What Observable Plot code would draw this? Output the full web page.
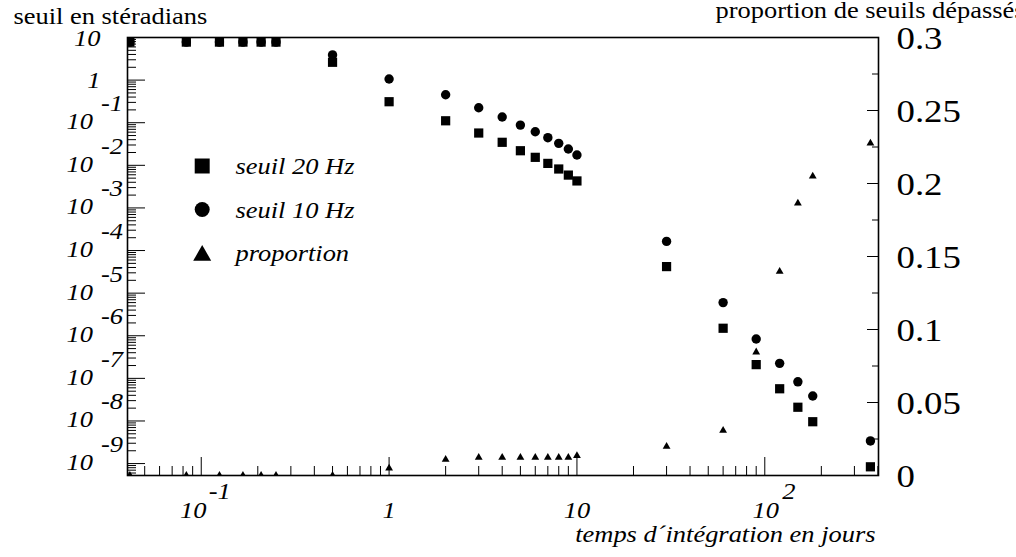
<!DOCTYPE html>
<html><head><meta charset="utf-8">
<script src="https://cdn.jsdelivr.net/npm/d3@7"></script>
<script src="https://cdn.jsdelivr.net/npm/@observablehq/plot@0.6"></script>
<style>
html,body{margin:0;padding:0;background:#fff;overflow:hidden;}
#wrap{position:relative;width:1016px;height:557px;overflow:hidden;}
#wrap svg{position:absolute;left:0;top:0;}
#wrap svg text{font-family:"Liberation Serif","Times New Roman",serif !important;}
</style></head><body><div id="wrap"></div>
<script>
// ---- data ----
const days = [0.0417, 0.0833, 0.125, 0.1667, 0.2083, 0.25, 0.5, 1, 2, 3, 4, 5, 6, 7, 8, 9, 10, 30, 60, 90, 120, 150, 180, 365];
const seuil20 = [7.8, 7.8, 7.8, 7.8, 7.8, 7.8, 2.62, 0.311, 0.111, 0.0573, 0.0347, 0.022, 0.0154, 0.0111, 0.0082, 0.0059, 0.0043, 4.2e-5, 1.5e-6, 2.1e-7, 5.7e-8, 2.1e-8, 9.6e-9, 8.4e-10];
const seuil10 = [7.8, 7.8, 7.8, 7.8, 7.8, 7.8, 3.9, 1.06, 0.454, 0.225, 0.136, 0.088, 0.0615, 0.0445, 0.0328, 0.0241, 0.0175, 1.64e-4, 6.0e-6, 8.4e-7, 2.25e-7, 8.3e-8, 3.85e-8, 3.4e-9];
const proportion = [0, 0, 0, 0, 0, 0, 0, 0.005, 0.011, 0.0123, 0.0123, 0.0123, 0.0123, 0.0123, 0.0123, 0.0123, 0.0135, 0.0199, 0.0308, 0.0845, 0.1397, 0.1865, 0.205, 0.2276];

const legendLabels = ["seuil 20 Hz", "seuil 10 Hz", "proportion"];
const titleLeft = "seuil en stéradians";
const titleRight = "proportion de seuils dépassés";
const xTitle = "temps d´intégration en jours";

const yPlainTicks = [10, 1];
const yPlainLabels = ["10", "1"];
const yExpTicks = [1e-1, 1e-2, 1e-3, 1e-4, 1e-5, 1e-6, 1e-7, 1e-8, 1e-9];
const yExpLabels = ["-1", "-2", "-3", "-4", "-5", "-6", "-7", "-8", "-9"];
const xPlainTicks = [1, 10];
const xPlainLabels = ["1", "10"];
const xExpTicks = [0.1, 100];
const xExpLabels = ["-1", "2"];
const pTicks = [0, 0.05, 0.1, 0.15, 0.2, 0.25, 0.3];
const pLabels = ["0", "0.05", "0.1", "0.15", "0.2", "0.25", "0.3"];
const pMinor = [0.025, 0.075, 0.125, 0.175, 0.225, 0.275];

// ---- layout ----
const W = 1016, H = 557, ML = 127, MR = 138, MT = 37, MB = 82;
const FW = W - ML - MR, FH = H - MT - MB;
const xDomain = [0.0405, 403];
const yDomain = [5.25e-10, 10];
const FONT = '"Liberation Serif", "Times New Roman", serif';
const STRETCH = 1.15;

const yMajor = yPlainTicks.concat(yExpTicks);
const xMajor = [0.1, 1, 10, 100];
const mult = [2, 3, 4, 5, 6, 7, 8, 9];
const yMinor = d3.range(-10, 1).flatMap(k => mult.map(m => m * Math.pow(10, k))).filter(v => v > yDomain[0] && v < yDomain[1]);
const xMinor = d3.range(-2, 3).flatMap(k => mult.map(m => m * Math.pow(10, k))).filter(v => v > xDomain[0] && v < xDomain[1]);

const txt = {fill: "black", fontFamily: FONT, fontSize: 23};
const ital = {...txt, fontStyle: "italic"};

const plotA = Plot.plot({
  width: W, height: H,
  marginLeft: ML, marginRight: MR, marginTop: MT, marginBottom: MB,
  style: {fontFamily: FONT, background: "white", overflow: "visible"},
  x: {type: "log", domain: xDomain, axis: null},
  y: {type: "log", domain: yDomain, axis: null},
  marks: [
    Plot.tickY(yMajor, {y: d => d, insetRight: FW - 18, stroke: "black", strokeWidth: 1}),
    Plot.tickY(yMinor, {y: d => d, insetRight: FW - 9, stroke: "black", strokeWidth: 1}),
    Plot.tickX(xMajor, {x: d => d, insetTop: FH - 18, stroke: "black", strokeWidth: 1}),
    Plot.tickX(xMinor, {x: d => d, insetTop: FH - 9, stroke: "black", strokeWidth: 1}),
    Plot.frame({stroke: "black", strokeWidth: 1.6}),
    Plot.dot(days, {x: d => d, y: (d, i) => seuil10[i], symbol: "circle", r: 4.7, fill: "black", clip: true}),
    Plot.dot(days, {x: d => d, y: (d, i) => seuil20[i], symbol: "square", r: 5.2, fill: "black", clip: true}),
    // left axis labels
    Plot.text(yPlainTicks, {y: d => d, text: (d, i) => yPlainLabels[i], frameAnchor: "left", dx: -27, dy: 1, textAnchor: "end", lineAnchor: "middle", ...ital}),
    Plot.text(yExpTicks, {y: d => d, text: () => "10", frameAnchor: "left", dx: -34.5, dy: -1, textAnchor: "end", lineAnchor: "middle", ...ital}),
    Plot.text(yExpTicks, {y: d => d, text: (d, i) => yExpLabels[i], frameAnchor: "left", dx: -26.5, dy: -19, textAnchor: "start", lineAnchor: "middle", ...ital}),
    // bottom axis labels
    Plot.text(xPlainTicks, {x: d => d, text: (d, i) => xPlainLabels[i], frameAnchor: "bottom", dy: 35, textAnchor: "middle", lineAnchor: "middle", ...ital}),
    Plot.text([xExpTicks[0]], {x: d => d, text: () => "10", frameAnchor: "bottom", dx: -8, dy: 35, textAnchor: "middle", lineAnchor: "middle", ...ital}),
    Plot.text([xExpTicks[0]], {x: d => d, text: () => xExpLabels[0], frameAnchor: "bottom", dx: 7.5, dy: 16.5, textAnchor: "start", lineAnchor: "middle", ...ital}),
    Plot.text([xExpTicks[1]], {x: d => d, text: () => "10", frameAnchor: "bottom", dx: 1, dy: 35, textAnchor: "middle", lineAnchor: "middle", ...ital}),
    Plot.text([xExpTicks[1]], {x: d => d, text: () => xExpLabels[1], frameAnchor: "bottom", dx: 17.5, dy: 16.5, textAnchor: "start", lineAnchor: "middle", ...ital}),
    // titles
    Plot.text([titleLeft], {text: d => d, frameAnchor: "top-left", dx: -114, dy: -14, textAnchor: "start", lineAnchor: "bottom", ...txt}),
    Plot.text([titleRight], {text: d => d, frameAnchor: "top-right", dx: -163, dy: -19.5, textAnchor: "start", lineAnchor: "bottom", ...txt}),
    Plot.text([xTitle], {text: d => d, frameAnchor: "bottom-right", dx: -3, dy: 66, textAnchor: "end", lineAnchor: "bottom", ...ital}),
    // legend
    Plot.dot([legendLabels[0]], {frameAnchor: "top-left", dx: 74.7, dy: 128.5, symbol: "square", r: 8.46, fill: "black", ariaLabel: "legend-stretch"}),
    Plot.dot([legendLabels[1]], {frameAnchor: "top-left", dx: 74.7, dy: 172, symbol: "circle", r: 7.5, fill: "black", ariaLabel: "legend-stretch"}),
    Plot.dot([legendLabels[2]], {frameAnchor: "top-left", dx: 74.7, dy: 218, symbol: "triangle", r: 6.68, fill: "black"}),
    Plot.text([legendLabels[0]], {text: d => d, frameAnchor: "top-left", dx: 108, dy: 129.5, textAnchor: "start", lineAnchor: "middle", ...ital}),
    Plot.text([legendLabels[1]], {text: d => d, frameAnchor: "top-left", dx: 108, dy: 173, textAnchor: "start", lineAnchor: "middle", ...ital}),
    Plot.text([legendLabels[2]], {text: d => d, frameAnchor: "top-left", dx: 108, dy: 216.5, textAnchor: "start", lineAnchor: "middle", ...ital})
  ]
});

const plotB = Plot.plot({
  width: W, height: H,
  marginLeft: ML, marginRight: MR, marginTop: MT, marginBottom: MB,
  style: {fontFamily: FONT, background: "transparent", overflow: "visible"},
  x: {type: "log", domain: xDomain, axis: null},
  y: {type: "linear", domain: [0, 0.3], axis: null},
  marks: [
    Plot.tickY(pTicks, {y: d => d, insetLeft: FW - 11, stroke: "black", strokeWidth: 1}),
    Plot.tickY(pMinor, {y: d => d, insetLeft: FW - 6, stroke: "black", strokeWidth: 1}),
    Plot.text(pTicks, {y: d => d, text: (d, i) => pLabels[i], frameAnchor: "right", dx: 18, dy: 1, textAnchor: "start", lineAnchor: "middle", ...txt, fontSize: 32}),
    Plot.dot(days, {x: d => d, y: (d, i) => proportion[i], symbol: "triangle", r: 2.9, fill: "black", clip: true})
  ]
});

const wrap = document.getElementById("wrap");
wrap.appendChild(plotA);
wrap.appendChild(plotB);

function stretchEl(el, s) {
  const tr = el.getAttribute("transform");
  if (tr) {
    el.setAttribute("transform", tr + ` scale(${s},1)`);
  } else if (el.tagName.toLowerCase() === "circle") {
    const cx = +el.getAttribute("cx") || 0, cy = +el.getAttribute("cy") || 0;
    el.setAttribute("transform", `translate(${cx},${cy}) scale(${s},1) translate(${-cx},${-cy})`);
  } else {
    const x = parseFloat(el.getAttribute("x")) || 0;
    el.setAttribute("transform", `translate(${x},0) scale(${s},1) translate(${-x},0)`);
  }
}
for (const svg of [plotA, plotB]) {
  svg.querySelectorAll("text").forEach(t => stretchEl(t, STRETCH));
}
plotA.querySelectorAll('g[aria-label="legend-stretch"] path, g[aria-label="legend-stretch"] circle').forEach(el => stretchEl(el, 1.33));
</script></body></html>
